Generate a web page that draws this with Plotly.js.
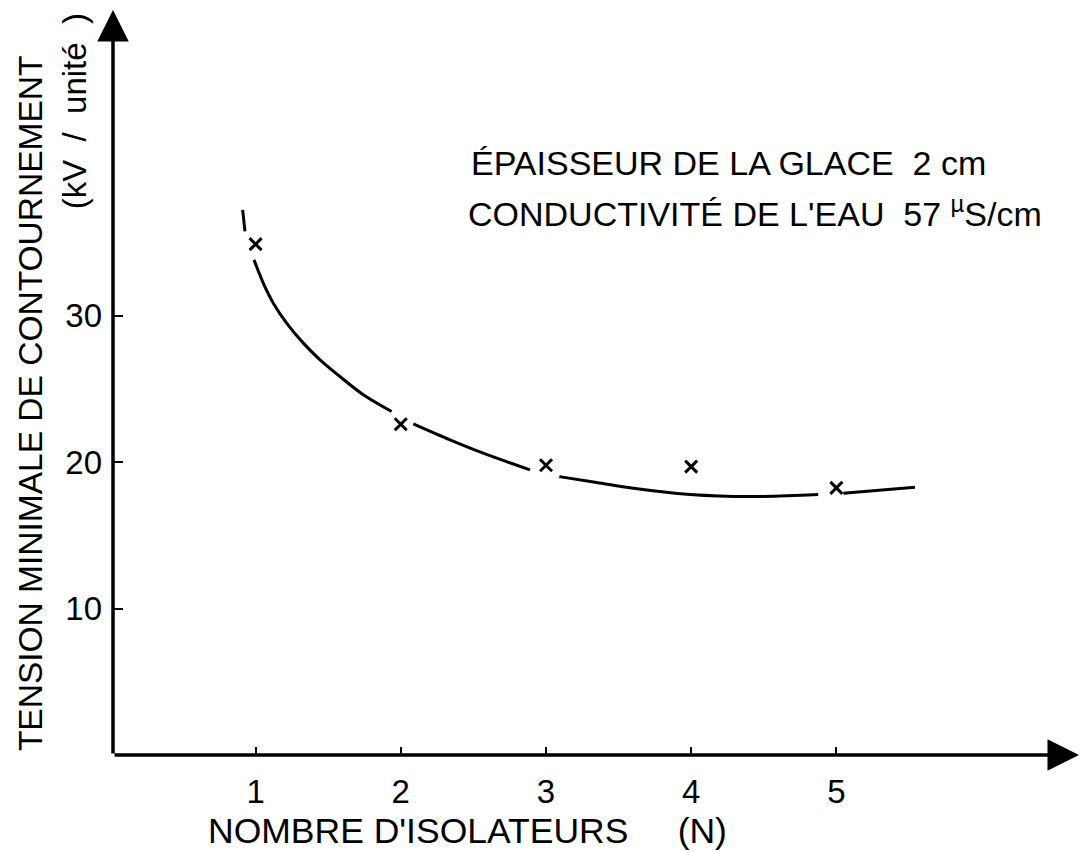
<!DOCTYPE html>
<html>
<head>
<meta charset="utf-8">
<script src="https://cdn.plot.ly/plotly-3.0.1.min.js"></script>
<style>
html,body{margin:0;padding:0;background:#fff;}
#chart{width:1082px;height:852px;}
</style>
</head>
<body>
<div id="chart"></div>
<script>
// Measured points (N, kV/unité)
const nIsolateurs = [1, 2, 3, 4, 5];
const tensionMesuree = [34.9, 22.6, 19.8, 19.7, 18.25];

// Hand-drawn fitted curve (null = gap in the drawn line around markers)
const curveN = [0.911, 0.927, null,
  0.989, 1.053, 1.122, 1.214, 1.329, 1.444, 1.581, 1.742, 1.937, null,
  2.086, 2.339, 2.568, 2.890, null,
  3.092, 3.349, 3.601, 3.992, 4.405, 4.875, null,
  5.048, 5.541];
const curveV = [37.25, 35.77, null,
  33.83, 32.24, 30.87, 29.51, 28.14, 27.00, 25.86, 24.61, 23.47, null,
  22.62, 21.53, 20.62, 19.48, null,
  19.02, 18.62, 18.22, 17.80, 17.66, 17.80, null,
  17.89, 18.30];

const xTicks = [1, 2, 3, 4, 5];
const yTicks = [10, 20, 30];

const FONT = "'Liberation Sans', 'DejaVu Sans', Arial, sans-serif";

const traces = [
  {
    x: curveN, y: curveV, mode: 'lines', type: 'scatter',
    line: {color: '#000', width: 3, shape: 'spline', smoothing: 1},
    connectgaps: false, hoverinfo: 'skip', showlegend: false
  },
  {
    x: nIsolateurs, y: tensionMesuree, mode: 'markers', type: 'scatter',
    marker: {symbol: 'x-thin-open', size: 12, color: '#000', line: {color: '#000', width: 3}},
    showlegend: false
  }
];

const layout = {
  width: 1082, height: 852,
  margin: {l: 113, r: 3, t: 10, b: 97},
  paper_bgcolor: '#fff', plot_bgcolor: '#fff',
  showlegend: false,
  font: {family: FONT, color: '#000', size: 30},
  xaxis: {
    range: [0.018, 6.671],
    tickvals: xTicks, ticktext: xTicks.map(String),
    ticks: 'inside', ticklen: 8, tickwidth: 2, tickcolor: '#000',
    showline: false, showgrid: false, zeroline: false,
    tickfont: {family: FONT, size: 33, color: '#000'},
    ticklabelstandoff: 14
  },
  yaxis: {
    range: [0, 50.9],
    tickvals: yTicks, ticktext: yTicks.map(String),
    ticks: 'inside', ticklen: 10, tickwidth: 2, tickcolor: '#000',
    showline: false, showgrid: false, zeroline: false,
    tickfont: {family: FONT, size: 33, color: '#000'},
    ticklabelstandoff: 10
  },
  annotations: [
    // axis lines with arrowheads
    {xref: 'paper', yref: 'paper', x: 0, y: 1, ax: 0, ay: 745,
     showarrow: true, arrowhead: 2, arrowsize: 1.8, arrowwidth: 3.5, arrowcolor: '#000', text: ''},
    {xref: 'paper', yref: 'paper', x: 1, y: 0, ax: -966, ay: 0,
     showarrow: true, arrowhead: 2, arrowsize: 1.8, arrowwidth: 3.5, arrowcolor: '#000', text: ''},
    // info text
    {xref: 'paper', yref: 'paper', x: 0.3686, y: 0.7952, xanchor: 'left', yanchor: 'middle',
     showarrow: false, text: 'ÉPAISSEUR DE LA GLACE\u00A0\u00A02 cm',
     font: {family: FONT, size: 34, color: '#000'}},
    {xref: 'paper', yref: 'paper', x: 0.3654, y: 0.7295, xanchor: 'left', yanchor: 'middle',
     showarrow: false, text: "CONDUCTIVITÉ DE L'EAU\u00A0\u00A057 <sup>µ</sup>S/cm",
     font: {family: FONT, size: 34, color: '#000'}},
    // y axis title (two lines)
    {xref: 'paper', yref: 'paper', x: -0.0853, y: 0.4718, xanchor: 'center', yanchor: 'middle',
     textangle: -90, showarrow: false, text: 'TENSION MINIMALE DE CONTOURNEMENT',
     font: {family: FONT, size: 33.5, color: '#000'}},
    {xref: 'paper', yref: 'paper', x: -0.0395, y: 0.8638, xanchor: 'center', yanchor: 'middle',
     textangle: -90, showarrow: false, text: '(kV\u00A0\u00A0/\u00A0\u00A0unité\u00A0\u00A0)',
     font: {family: FONT, size: 33, color: '#000'}},
    // x axis title
    {xref: 'paper', yref: 'paper', x: 0.3665, y: -0.1025, xanchor: 'center', yanchor: 'middle',
     showarrow: false, text: "NOMBRE D'ISOLATEURS\u00A0\u00A0\u00A0\u00A0\u00A0(N)",
     font: {family: FONT, size: 35.5, color: '#000'}}
  ]
};

Plotly.newPlot('chart', traces, layout, {displayModeBar: false, staticPlot: true});
</script>
</body>
</html>
